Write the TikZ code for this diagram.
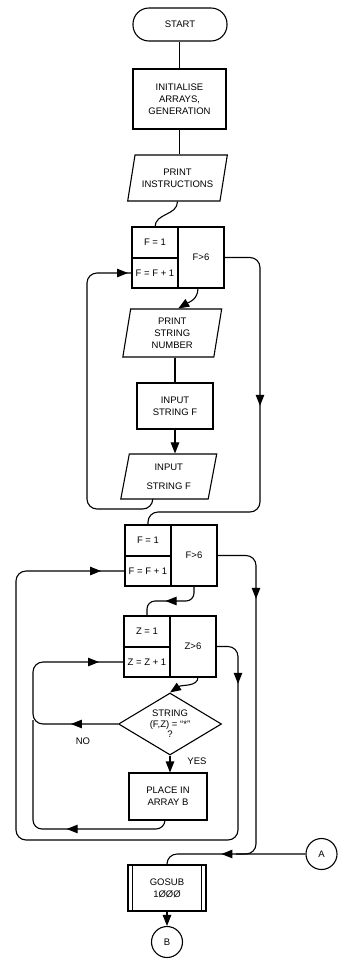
\documentclass[tikz,border=0pt]{standalone}
\usepackage{fontspec}
\setmainfont{Liberation Sans}
\usetikzlibrary{shapes.geometric, arrows.meta, positioning, calc, decorations.markings}

\begin{document}
\begin{tikzpicture}[x=1pt, y=-1pt, line width=1.1pt,
    every node/.style={align=center, font=\fontsize{9.5}{12}\selectfont},
    term/.style={draw, rounded corners=16pt, minimum width=94pt, minimum height=33pt},
    proc/.style={draw, rectangle, inner sep=2pt},
    cell/.style={draw, rectangle, minimum width=46pt, inner sep=1pt, outer sep=0pt},
    io/.style={draw, trapezium, trapezium stretches=true, inner sep=2pt},
    dec/.style={draw, diamond, aspect=1.66, inner sep=0pt, minimum width=103pt, minimum height=62pt,
        font=\fontsize{9.5}{10.5}\selectfont},
    conn/.style={draw, circle, minimum size=31pt, inner sep=0pt},
    arr/.style={-{Triangle[length=11pt,width=8.5pt]}},
    tipat/.style={postaction={decorate, decoration={markings,
        mark=at position #1 with {\arrow{Triangle[length=11pt,width=8.5pt]}}}}}]
    \useasboundingbox (0,0) rectangle (342,967);

    % Top of chart
    \node[term] (start) at (180,24.5) {START};
    \node[proc, minimum width=93pt, minimum height=60pt] (init) at (179.5,99) {INITIALISE\\ARRAYS,\\GENERATION};
    \node[io, minimum width=100pt, minimum height=46pt, trapezium left angle=74, trapezium right angle=106]
        (instr) at (177.5,178) {PRINT\\INSTRUCTIONS};

    % Loop boxes
    \foreach \n/\x/\y/\lv in {1/132/227/F, 2/125/525/F, 3/124/616/Z} {
        \node[cell, minimum height=31pt, anchor=north west] (loop\n-init) at (\x,\y) {\lv{} = 1};
        \node[cell, minimum height=30pt, below=0pt of loop\n-init] (loop\n-inc) {\lv{} = \lv{} + 1};
        \node[cell, minimum height=61pt, anchor=north west] (loop\n-test) at (loop\n-init.north east) {\lv{}>6};
    }

    % First loop body
    \node[io, minimum width=99pt, minimum height=48pt, trapezium left angle=83, trapezium right angle=97]
        (pstr) at (172.25,333) {PRINT\\STRING\\NUMBER};
    \node[proc, minimum width=76pt, minimum height=46pt] (inp) at (175,406) {INPUT\\STRING F};
    \node[io, minimum width=96pt, minimum height=45pt, trapezium left angle=80, trapezium right angle=100]
        (inpio) at (168.75,476.5) {INPUT\\[7pt]STRING F};

    % Inner loop body
    \node[dec] (test) at (170,724) {STRING\\(F,Z) = “*”\\?};
    \node[proc, minimum width=78pt, minimum height=47pt] (place) at (168,796.5) {PLACE IN\\ARRAY B};
    \node (no) at (83,741) {NO};
    \node (yes) at (197,761) {YES};

    % Bottom
    \node[proc, minimum width=78pt, minimum height=46pt] (gosub) at (167,888) {GOSUB\\1ØØØ};
    \draw ([xshift=5pt]gosub.north west) -- ([xshift=5pt]gosub.south west);
    \draw ([xshift=-5pt]gosub.north east) -- ([xshift=-5pt]gosub.south east);
    \node[conn] (conA) at (321.5,854) {A};
    \node[conn] (conB) at (167,942) {B};

    % Connectors
    \draw (init.north |- start.south) -- (init.north);
    \draw (init.south) -- (init.south |- instr.north);
    \draw (instr.south) .. controls +(0,14) and +(0,-14) .. (loop1-init.north);
    \draw[arr] ([xshift=-3pt]loop1-test.south) .. controls +(0,12) and +(10,-6) .. ([xshift=6pt]pstr.north);
    \draw (pstr.south -| inp.north) -- (inp.north);
    \draw[arr] (inp.south) -- (inp.south |- inpio.north);
    \draw[rounded corners=10pt, tipat=-4pt] ([xshift=-16pt]inpio.south) |- (87,509) |- (loop1-inc.west);
    \draw[rounded corners=10pt, tipat=180pt] (loop1-test.east) -| (260,512) -| (loop2-init.north);

    \draw[rounded corners=8pt, tipat=40pt] (loop2-test.south) |- ($(loop3-init.north)+(0,-15)$) -- (loop3-init.north);
    \coordinate (join) at (236,854);
    \draw[rounded corners=10pt, tipat=78pt] (loop2-test.east) -| (256,854) -- (join);
    \draw[rounded corners=10pt, tipat=55pt, tipat=-24pt] (loop3-test.east) -| (238,840) -| (16,600) |- (loop2-inc.west);

    \draw[arr] ([xshift=5pt]loop3-test.south) .. controls +(0,10) and +(12,-8) .. (test.north);
    \draw[rounded corners=10pt, tipat=47pt, tipat=-25pt] (test.west) -| (33,700) |- (loop3-inc.west);
    \coordinate (nojoin) at (33,720);
    \draw[rounded corners=9pt, tipat=104pt] ([xshift=-3pt]place.south) |- (33,829) -- (nojoin);
    \draw[arr] (test.south) -- (test.south |- place.north);

    \draw[rounded corners=10pt, tipat=84pt] (conA.west) -| (gosub.north);
    \draw[arr] (gosub.south) -- (conB.north);
\end{tikzpicture}
\end{document}
